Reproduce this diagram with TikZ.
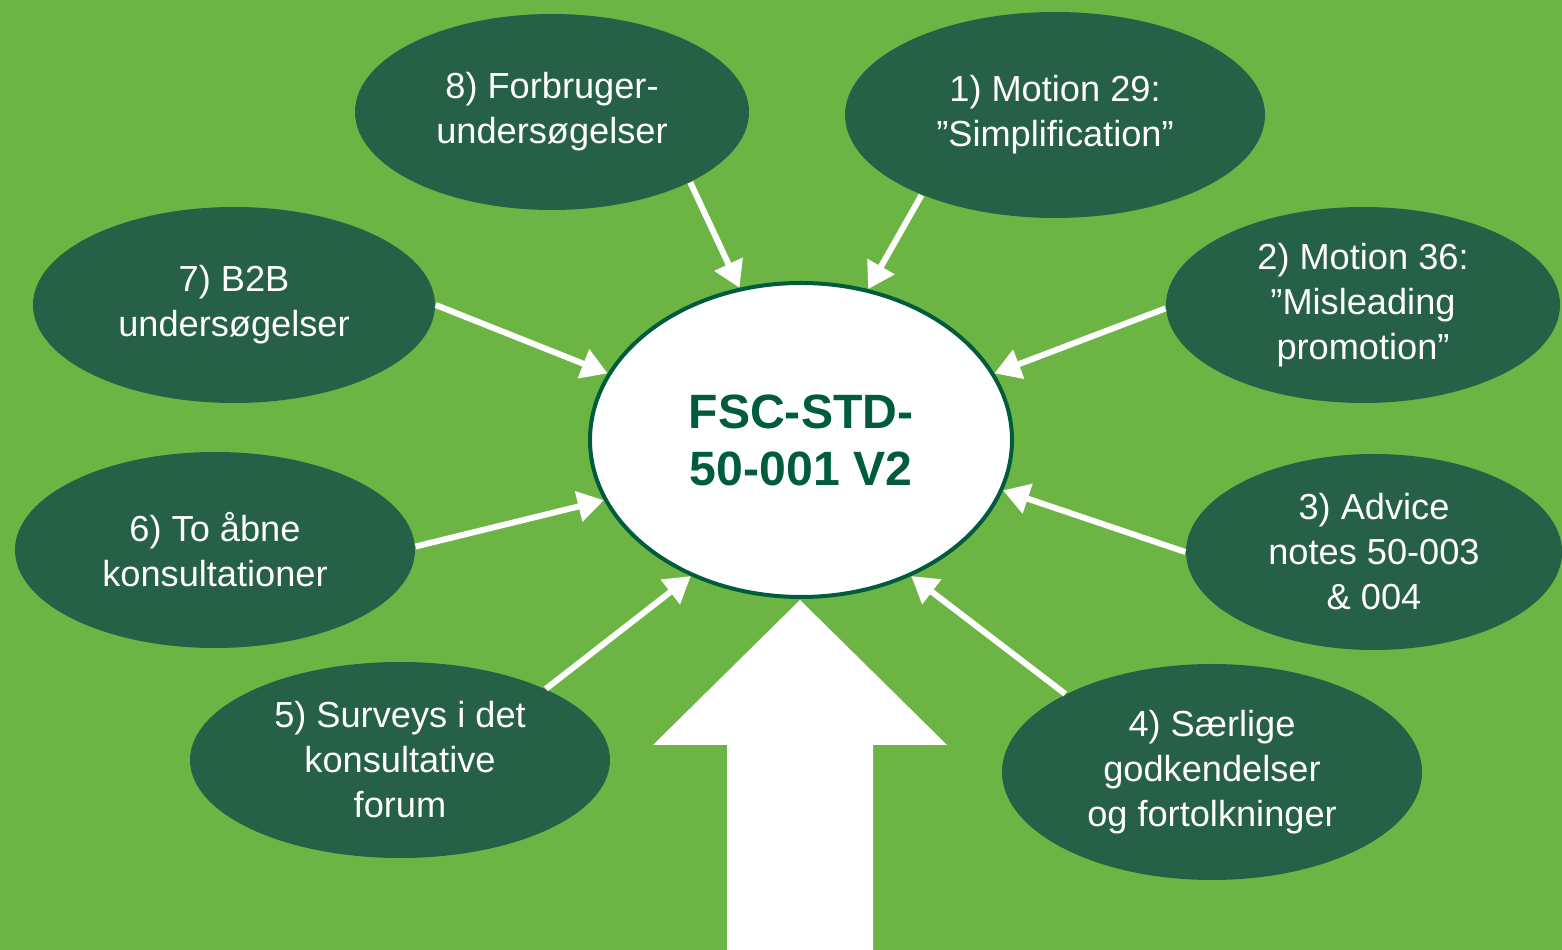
\documentclass[tikz,border=0pt]{standalone}
\usepackage{fontspec}
\setmainfont{Liberation Sans}
\usetikzlibrary{shapes.geometric,arrows.meta}
\definecolor{fscbg}{RGB}{108,181,68}
\definecolor{fscdark}{RGB}{38,96,70}
\definecolor{fscline}{RGB}{0,92,60}
\tikzset{
  bubble/.style={ellipse,fill=fscdark,text=white,align=center,inner sep=0pt,
    font=\fontsize{10.3}{12.8}\selectfont},
  hub/.style={ellipse,fill=white,draw=fscline,line width=0.04cm,text=fscline,
    align=center,inner sep=0pt,font=\fontsize{13.7}{16.2}\selectfont\bfseries},
  feed/.style={white,line width=0.06cm,-{Triangle[length=0.26cm,width=0.3cm]}}
}
\begin{document}
\begin{tikzpicture}
  \fill[fscbg] (0,0) rectangle (15.62,9.5);
  \useasboundingbox (0,0) rectangle (15.62,9.5);
  % big arrow from below
  \fill[white] (8,3.5) -- (9.47,2.05) -- (8.73,2.05) -- (8.73,0)
    -- (7.27,0) -- (7.27,2.05) -- (6.53,2.05) -- cycle;
  \node[hub,minimum width=4.22cm,minimum height=3.14cm] (c) at (8.01,5.10) {FSC-STD-\\50-001 V2};
  \node[bubble,minimum width=3.94cm,minimum height=1.96cm] (e8) at (5.52,8.38) {8) Forbruger-\\unders\o gelser};
  \node[bubble,minimum width=4.20cm,minimum height=2.06cm] (e1) at (10.55,8.35) {1) Motion 29:\\”Simplification”};
  \node[bubble,minimum width=3.94cm,minimum height=1.96cm] (e2) at (13.63,6.45) {2) Motion 36:\\”Misleading\\promotion”};
  \node[bubble,minimum width=4.02cm,minimum height=1.96cm] (e7) at (2.34,6.45) {7) B2B\\unders\o gelser};
  \node[bubble,minimum width=4.00cm,minimum height=1.96cm] (e6) at (2.15,4.00) {6) To åbne\\konsultationer};
  \node[bubble,minimum width=3.76cm,minimum height=1.96cm] (e3) at (13.74,3.98) {3) Advice\\notes 50-003\\\& 004};
  \node[bubble,minimum width=4.20cm,minimum height=1.96cm] (e5) at (4.00,1.90) {5) Surveys i det\\konsultative\\forum};
  \node[bubble,minimum width=4.20cm,minimum height=2.16cm] (e4) at (12.12,1.78) {4) Særlige\\godkendelser\\og fortolkninger};
  % inputs
  \draw[feed] (e8.-27) -- (c.112);
  \draw[feed] (e1.-149) -- (c.66);
  \draw[feed] (e2.181) -- (c.19);
  \draw[feed] (e7.0) -- (c.161);
  \draw[feed] (e6.1) -- (c.197);
  \draw[feed] (e3.180) -- (c.-14);
  \draw[feed] (e5.26) -- (c.231);
  \draw[feed] (e4.152) -- (c.-51);
\end{tikzpicture}
\end{document}
